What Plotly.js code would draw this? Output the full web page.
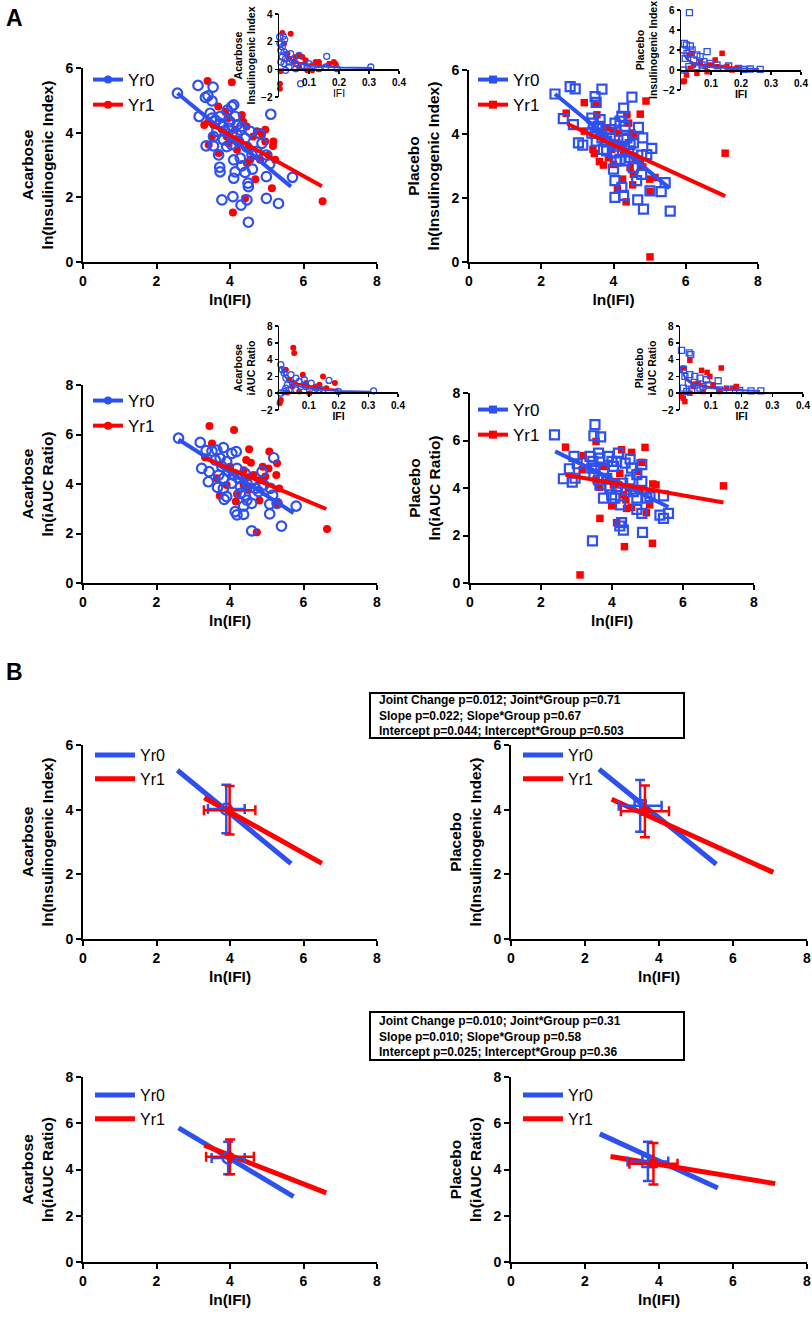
<!DOCTYPE html>
<html><head><meta charset="utf-8">
<script src="https://cdn.plot.ly/plotly-3.0.1.min.js"></script>
<style>body{margin:0;background:#fff}#c{width:812px;height:1338px}</style>
</head><body><div id="c"></div>
<script>
const W=812,H=1338;
const fx=p=>p/W, fy=p=>1-p/H;
const FONT='Liberation Sans, Arial, sans-serif';
const BLUE='#2d50f0', RED='#ff0000';

// ---------- Panel A: ln(IFI) vs ln(Insulinogenic Index), Acarbose ----------
const insAcarYr0=[[2.57,5.22],[3.13,5.46],[3.54,5.41],[3.33,5.09],[3.40,5.14],[3.51,4.98],[3.16,4.50],[3.35,3.59],[3.55,3.59],[3.69,3.31],[3.72,2.93],[3.73,2.79],[3.78,1.92],[4.08,2.02],[4.10,2.59],[4.14,2.79],[4.30,1.76],[4.50,1.23],[4.46,1.92],[4.50,2.33],[4.49,2.44],[4.41,2.77],[4.32,2.97],[4.61,2.87],[4.99,2.64],[4.99,1.97],[5.32,1.81],[5.70,2.62],[5.08,3.03],[4.99,3.31],[5.11,4.57],[4.10,4.86],[4.05,4.81],[3.93,4.70],[3.46,4.60],[3.51,4.45],[3.60,4.39],[3.73,4.29],[3.64,4.04],[3.55,3.88],[3.87,4.04],[3.96,4.14],[4.00,4.34],[4.14,4.50],[4.19,4.24],[4.28,4.08],[4.32,4.19],[4.55,4.04],[4.41,3.83],[4.23,3.73],[4.05,3.63],[3.91,3.57],[3.82,3.78],[4.46,3.55],[4.60,3.31],[4.28,3.21],[4.10,3.16],[4.73,3.42],[4.87,3.67],[4.82,3.96],[3.73,4.50],[3.82,4.19],[4.05,3.94],[4.19,3.94]];
const insAcarYr1=[[3.39,5.60],[4.05,5.56],[3.30,4.24],[3.55,4.24],[3.68,4.81],[3.87,4.65],[3.96,4.45],[4.32,4.55],[4.36,4.34],[4.45,4.19],[4.63,3.88],[4.73,4.04],[4.87,3.94],[4.96,4.09],[4.96,3.73],[5.18,3.73],[5.17,3.59],[5.05,3.31],[5.23,3.16],[4.82,3.16],[4.69,2.56],[5.14,2.28],[4.41,1.97],[4.08,1.53],[6.52,1.88],[3.42,3.63],[3.69,3.37],[3.91,3.88],[4.10,3.78],[4.19,3.47],[4.28,3.68],[4.46,3.06],[4.55,3.16],[3.78,4.09],[4.14,4.09],[3.96,3.67],[4.50,3.52],[3.51,3.88]];
const fitInsAcarYr0X=[2.57,5.66], fitInsAcarYr0Y=[5.22,2.33];
const fitInsAcarYr1X=[3.30,6.50], fitInsAcarYr1Y=[4.37,2.34];

// ---------- Placebo insulinogenic ----------
const insPlacYr0=[[2.38,5.25],[2.80,5.48],[2.94,5.41],[3.68,5.40],[3.49,5.17],[3.52,4.99],[4.51,5.15],[2.61,4.48],[2.89,4.29],[3.03,3.72],[3.15,3.65],[3.40,4.50],[3.44,4.34],[3.54,4.19],[3.63,4.45],[3.49,4.03],[3.52,3.78],[3.68,3.88],[3.81,3.78],[3.91,4.14],[4.04,4.34],[4.18,4.40],[4.28,4.81],[4.23,4.55],[4.32,4.24],[4.69,4.21],[4.81,3.88],[4.55,3.72],[4.28,3.83],[4.09,3.62],[4.00,3.41],[4.09,3.16],[4.18,3.21],[4.32,3.16],[4.00,2.90],[4.04,2.54],[4.23,2.33],[4.28,2.08],[4.04,2.02],[4.67,1.94],[4.83,1.65],[4.55,2.95],[4.78,2.74],[4.64,2.54],[4.78,3.34],[4.92,3.36],[5.06,3.55],[5.01,2.22],[5.32,2.20],[5.43,2.48],[5.57,1.59],[4.46,3.67],[3.81,3.47],[3.72,3.52],[3.91,3.88],[3.58,4.24],[3.40,4.03],[4.37,3.88],[4.42,3.47],[4.46,3.26]];
const insPlacYr1=[[2.69,4.65],[3.19,4.98],[3.19,4.09],[3.52,4.96],[3.54,4.60],[3.43,3.52],[3.47,3.39],[3.61,3.14],[3.72,3.03],[3.86,3.26],[3.81,4.19],[4.00,4.09],[4.14,4.03],[4.37,4.60],[4.42,4.34],[4.51,4.03],[4.55,3.93],[4.74,4.62],[4.90,5.03],[4.28,3.41],[4.46,2.95],[4.55,2.74],[4.25,2.59],[4.11,2.28],[4.35,1.88],[4.53,2.41],[4.81,2.97],[5.00,2.59],[5.01,2.20],[5.15,2.64],[5.01,0.16],[7.09,3.40],[3.95,3.52],[4.09,3.72],[4.23,3.67],[3.72,3.88],[4.60,3.26],[4.74,3.16],[4.00,3.05]];
const fitInsPlacYr0X=[2.38,5.55], fitInsPlacYr0Y=[5.25,2.31];
const fitInsPlacYr1X=[2.72,7.09], fitInsPlacYr1Y=[4.32,2.06];

// ---------- Acarbose iAUC ratio ----------
const aucAcarYr0=[[2.60,5.85],[3.19,5.68],[3.35,5.35],[3.51,5.33],[3.64,5.37],[3.82,5.47],[4.05,5.24],[4.17,5.31],[3.23,4.63],[3.43,4.50],[3.41,4.09],[3.66,3.86],[3.82,3.82],[3.91,3.49],[3.84,3.38],[4.14,2.88],[4.19,2.75],[4.37,2.77],[4.37,3.11],[4.59,3.22],[4.46,3.35],[4.41,3.55],[4.59,2.11],[5.08,2.79],[5.08,3.19],[5.16,3.55],[5.28,3.22],[5.40,2.30],[5.80,3.11],[5.19,5.06],[4.87,4.50],[5.10,3.82],[4.92,3.96],[4.69,3.82],[4.59,4.09],[4.41,4.43],[4.19,4.63],[4.10,4.36],[3.96,4.50],[3.78,4.70],[3.60,4.97],[3.73,5.04],[3.91,4.90],[4.05,4.03],[4.28,3.89],[4.46,4.03],[4.23,4.23],[3.82,4.23],[3.69,4.36],[4.78,3.69],[4.28,3.62]];
const aucAcarYr1=[[3.44,6.34],[4.11,6.18],[3.51,5.64],[4.52,5.40],[5.07,5.31],[3.32,5.08],[4.44,4.97],[4.57,4.86],[5.28,4.84],[4.89,4.70],[5.05,4.63],[5.26,4.36],[4.96,4.30],[4.82,4.16],[4.50,4.27],[4.37,3.96],[5.34,3.82],[4.19,3.60],[3.72,3.53],[4.80,3.33],[4.16,3.29],[5.28,3.22],[4.73,2.05],[6.64,2.18],[4.14,4.43],[4.00,4.70],[4.37,4.56],[4.64,4.36],[3.64,4.23],[3.91,3.96],[4.50,3.76]];
const fitAucAcarYr0X=[2.60,5.73], fitAucAcarYr0Y=[5.80,2.83];
const fitAucAcarYr1X=[3.30,6.62], fitAucAcarYr1Y=[5.05,2.99];

// ---------- Placebo iAUC ratio ----------
const aucPlacYr0=[[2.38,6.24],[3.52,6.67],[3.49,6.20],[3.68,6.15],[2.63,4.39],[2.80,4.81],[2.88,4.25],[2.96,4.41],[2.93,5.33],[3.02,5.02],[3.38,5.33],[3.46,5.12],[3.52,4.84],[3.62,5.47],[3.66,5.26],[3.49,4.56],[3.62,4.34],[3.76,3.57],[3.90,5.33],[4.00,5.12],[4.04,4.91],[4.18,5.47],[4.13,5.12],[4.37,5.05],[4.51,5.22],[4.55,4.84],[4.84,4.98],[4.84,4.28],[4.70,4.56],[4.51,4.34],[4.30,4.20],[4.13,4.06],[3.94,3.99],[3.99,3.71],[4.08,3.57],[4.24,3.29],[4.27,2.54],[4.22,2.40],[4.32,2.23],[3.45,1.77],[4.70,3.57],[4.70,3.10],[4.84,2.93],[4.86,2.13],[4.98,3.57],[5.07,3.64],[5.45,3.67],[5.35,2.86],[5.45,2.72],[5.59,2.93],[3.85,4.41],[3.76,4.77],[4.41,3.92],[4.60,3.85],[3.43,4.84],[3.66,4.13]];
const aucPlacYr1=[[2.69,5.72],[3.19,5.36],[3.55,5.96],[3.16,4.77],[3.55,4.34],[3.64,4.03],[3.66,2.72],[3.10,0.34],[4.27,5.61],[4.55,5.50],[4.93,5.71],[4.84,5.08],[4.74,4.70],[5.15,4.17],[5.24,4.13],[4.79,3.89],[4.46,3.99],[4.13,4.27],[3.99,3.25],[4.13,2.54],[4.39,3.50],[4.41,3.14],[4.55,3.19],[4.97,2.96],[5.06,3.29],[4.35,1.53],[5.14,1.67],[7.14,4.09],[3.90,4.41],[4.22,4.62],[4.32,3.71],[4.04,4.13],[3.76,4.91]];
const fitAucPlacYr0X=[2.40,5.59], fitAucPlacYr0Y=[5.54,3.20];
const fitAucPlacYr1X=[2.69,7.14], fitAucPlacYr1Y=[4.56,3.39];

// ---------- Insets (IFI, untransformed) ----------
const rawInsAcarYr0=[[0.002,2.34],[0.014,2.39],[0.019,2.15],[0.006,1.86],[0.003,1.86],[0.011,1.62],[0.006,1.38],[0.017,1.26],[0.011,0.89],[0.022,0.77],[0.006,0.53],[0.017,0.41],[0.033,0.53],[0.044,0.65],[0.056,0.41],[0.078,0.29],[0.094,0.17],[0.111,0.24],[0.133,0.05],[0.156,0.17],[0.159,0.94],[0.194,0.05],[0.306,0.17],[0.072,-1.04],[0.022,-0.07],[0.033,0.17],[0.067,1.01],[0.039,1.14],[0.100,0.41],[0.056,0.05]];
const rawInsAcarYr1=[[0.011,2.63],[0.039,2.58],[0.017,1.86],[0.028,1.14],[0.067,1.01],[0.078,0.89],[0.050,0.53],[0.089,0.65],[0.133,0.53],[0.167,0.41],[0.183,0.53],[0.111,-0.07],[0.094,-0.07],[0.003,-1.04],[0.003,-1.40],[0.005,-0.14],[0.067,0.17],[0.133,0.29],[0.189,0.36],[0.033,0.77],[0.056,0.89],[0.122,0.53]];
const curveInsAcarYr0X=[0.015,0.03,0.06,0.10,0.20,0.31], curveInsAcarYr0Y=[1.30,0.80,0.45,0.27,0.14,0.10];
const curveInsAcarYr1X=[0.020,0.04,0.06,0.10,0.15,0.19], curveInsAcarYr1Y=[1.00,0.72,0.50,0.33,0.22,0.17];

const rawInsPlacYr0=[[0.028,5.73],[0.011,2.67],[0.018,2.50],[0.007,2.00],[0.031,2.40],[0.037,2.00],[0.020,1.67],[0.014,1.17],[0.053,1.50],[0.087,1.83],[0.064,1.33],[0.042,1.00],[0.076,0.83],[0.098,0.67],[0.120,0.50],[0.159,0.40],[0.192,0.17],[0.209,0.07],[0.231,0.10],[0.264,0.07],[0.026,0.33],[0.009,0.00],[0.053,0.33],[0.142,0.17],[0.070,0.50]];
const rawInsPlacYr1=[[0.011,-1.10],[0.007,-1.17],[0.026,1.50],[0.037,1.67],[0.137,1.67],[0.114,1.00],[0.053,-0.33],[0.087,-0.17],[0.153,0.33],[0.187,0.17],[0.018,-0.50],[0.098,0.50],[0.064,0.83],[0.042,0.50],[0.120,0.33],[0.170,0.00],[0.031,0.17],[0.081,0.33]];
const curveInsPlacYr0X=[0.010,0.03,0.06,0.10,0.17,0.26], curveInsPlacYr0Y=[1.50,0.80,0.45,0.30,0.17,0.10];
const curveInsPlacYr1X=[0.015,0.03,0.05,0.08,0.12,0.18], curveInsPlacYr1Y=[1.20,0.85,0.60,0.45,0.35,0.25];

const rawAucAcarYr0=[[0.006,3.40],[0.011,2.80],[0.017,2.40],[0.023,1.80],[0.040,2.20],[0.057,1.80],[0.085,1.60],[0.028,1.00],[0.045,1.20],[0.074,0.80],[0.108,1.20],[0.125,0.60],[0.168,1.52],[0.148,0.40],[0.200,0.20],[0.318,0.28],[0.023,0.60],[0.017,0.20],[0.057,0.40],[0.102,0.40],[0.136,0.40],[0.034,0.40],[0.091,0.80],[0.006,0.00],[0.068,1.40]];
const rawAucAcarYr1=[[0.048,5.40],[0.051,4.80],[0.023,2.80],[0.034,1.60],[0.080,2.20],[0.148,2.00],[0.188,1.20],[0.136,1.00],[0.003,-1.00],[0.006,-0.80],[0.002,-1.20],[0.102,0.00],[0.068,0.20],[0.045,0.80],[0.091,1.20],[0.125,0.80],[0.028,0.08],[0.159,0.60]];
const curveAucAcarYr0X=[0.006,0.02,0.035,0.06,0.10,0.20,0.31], curveAucAcarYr0Y=[3.20,2.00,1.40,0.90,0.55,0.25,0.18];
const curveAucAcarYr1X=[0.028,0.05,0.08,0.12,0.16,0.20], curveAucAcarYr1Y=[1.80,1.30,0.95,0.70,0.50,0.40];

const rawAucPlacYr0=[[0.005,5.10],[0.030,4.80],[0.035,4.60],[0.011,2.80],[0.016,2.00],[0.032,2.20],[0.048,2.00],[0.065,1.80],[0.086,1.60],[0.091,1.00],[0.124,1.48],[0.027,1.20],[0.054,1.00],[0.011,0.60],[0.022,0.20],[0.065,0.60],[0.129,0.40],[0.161,0.40],[0.194,0.32],[0.231,0.28],[0.263,0.28],[0.038,0.40],[0.075,0.80]];
const rawAucPlacYr1=[[0.032,3.92],[0.011,3.00],[0.134,3.00],[0.070,2.72],[0.088,2.48],[0.097,2.00],[0.011,-0.60],[0.016,-1.00],[0.005,-0.40],[0.043,0.80],[0.059,1.20],[0.108,1.00],[0.151,0.60],[0.172,0.60],[0.183,0.80],[0.075,0.20],[0.032,0.00],[0.129,0.20]];
const curveAucPlacYr0X=[0.005,0.02,0.04,0.08,0.15,0.26], curveAucPlacYr0Y=[2.70,1.60,1.10,0.70,0.40,0.25];
const curveAucPlacYr1X=[0.015,0.03,0.06,0.10,0.15,0.20], curveAucPlacYr1Y=[1.90,1.40,1.00,0.70,0.50,0.40];

// ---------- Panel B: group means with SD (index 0 = Yr0, 1 = Yr1) ----------
const bInsAcarMeanX=[3.90,3.99], bInsAcarMeanY=[4.02,3.98], bInsAcarSdX=[0.50,0.70], bInsAcarSdY=[0.75,0.75];
const bInsPlacMeanX=[3.49,3.62], bInsPlacMeanY=[4.12,3.95], bInsPlacSdX=[0.58,0.65], bInsPlacSdY=[0.80,0.80];
const bAucAcarMeanX=[3.95,4.00], bAucAcarMeanY=[4.50,4.55], bAucAcarSdX=[0.45,0.65], bAucAcarSdY=[0.70,0.75];
const bAucPlacMeanX=[3.70,3.85], bAucPlacMeanY=[4.35,4.25], bAucPlacSdX=[0.55,0.65], bAucPlacSdY=[0.85,0.90];

const seriesNames=['Yr0','Yr1'];
const statsIns=['Joint Change p=0.012; Joint*Group p=0.71','Slope p=0.022; Slope*Group p=0.67','Intercept p=0.044; Intercept*Group p=0.503'];
const statsAuc=['Joint Change p=0.010; Joint*Group p=0.31','Slope p=0.010; Slope*Group p=0.58','Intercept p=0.025; Intercept*Group p=0.36'];

// ---------- build ----------
const xs=a=>a.map(p=>p[0]), ys=a=>a.map(p=>p[1]);
const id=n=>n===1?'':String(n);
const traces=[];
function scat(data,n,sym,color,size,lw){
  traces.push({type:'scatter',mode:'markers',x:xs(data),y:ys(data),xaxis:'x'+id(n),yaxis:'y'+id(n),showlegend:false,hoverinfo:'skip',cliponaxis:false,
    marker:{symbol:sym,size:size,color:color,line:{width:lw,color:color}}});
}
function line(x,y,n,color,w){
  traces.push({type:'scatter',mode:'lines',x:x,y:y,xaxis:'x'+id(n),yaxis:'y'+id(n),showlegend:false,hoverinfo:'skip',line:{color:color,width:w}});
}
function legendItems(n,leg,withMarker,sym){
  [BLUE,RED].forEach((c,i)=>{
    traces.push({type:'scatter',mode:withMarker?'lines+markers':'lines',x:[null],y:[null],xaxis:'x'+id(n),yaxis:'y'+id(n),
      name:seriesNames[i],legend:leg,legendgroup:leg+i,showlegend:true,
      line:{color:c,width:withMarker?4:5},marker:{symbol:sym,size:8,color:c}});
  });
}
function means(mx,my,sx,sy,n,symOpen,symFill){
  [0,1].forEach(i=>{
    const c=i===0?BLUE:RED;
    traces.push({type:'scatter',mode:'markers',x:[mx[i]],y:[my[i]],xaxis:'x'+id(n),yaxis:'y'+id(n),showlegend:false,hoverinfo:'skip',
      marker:{symbol:i===0?symOpen:symFill,size:i===0?11:9,color:c,line:{width:i===0?2.5:0,color:c}},
      error_x:{type:'data',array:[sx[i]],color:c,thickness:2.5,width:5},
      error_y:{type:'data',array:[sy[i]],color:c,thickness:2.5,width:5}});
  });
}

// A panels
scat(insAcarYr1,1,'circle',RED,8,0); scat(insAcarYr0,1,'circle-open',BLUE,9.5,2.2);
line(fitInsAcarYr0X,fitInsAcarYr0Y,1,BLUE,4); line(fitInsAcarYr1X,fitInsAcarYr1Y,1,RED,4);
legendItems(1,'legend',true,'circle');
scat(insPlacYr1,2,'square',RED,7.5,0); scat(insPlacYr0,2,'square-open',BLUE,9,2.2);
line(fitInsPlacYr0X,fitInsPlacYr0Y,2,BLUE,4); line(fitInsPlacYr1X,fitInsPlacYr1Y,2,RED,4);
legendItems(2,'legend2',true,'square');
scat(aucAcarYr1,3,'circle',RED,8,0); scat(aucAcarYr0,3,'circle-open',BLUE,9.5,2.2);
line(fitAucAcarYr0X,fitAucAcarYr0Y,3,BLUE,4); line(fitAucAcarYr1X,fitAucAcarYr1Y,3,RED,4);
legendItems(3,'legend3',true,'circle');
scat(aucPlacYr1,4,'square',RED,7.5,0); scat(aucPlacYr0,4,'square-open',BLUE,9,2.2);
line(fitAucPlacYr0X,fitAucPlacYr0Y,4,BLUE,4); line(fitAucPlacYr1X,fitAucPlacYr1Y,4,RED,4);
legendItems(4,'legend4',true,'square');
// B panels
line(fitInsAcarYr0X,fitInsAcarYr0Y,5,BLUE,5); line(fitInsAcarYr1X,fitInsAcarYr1Y,5,RED,5);
means(bInsAcarMeanX,bInsAcarMeanY,bInsAcarSdX,bInsAcarSdY,5,'circle-open','circle');
legendItems(5,'legend5',false,'circle');
line(fitInsPlacYr0X,fitInsPlacYr0Y,6,BLUE,5); line(fitInsPlacYr1X,fitInsPlacYr1Y,6,RED,5);
means(bInsPlacMeanX,bInsPlacMeanY,bInsPlacSdX,bInsPlacSdY,6,'square-open','square');
legendItems(6,'legend6',false,'square');
line(fitAucAcarYr0X,fitAucAcarYr0Y,7,BLUE,5); line(fitAucAcarYr1X,fitAucAcarYr1Y,7,RED,5);
means(bAucAcarMeanX,bAucAcarMeanY,bAucAcarSdX,bAucAcarSdY,7,'circle-open','circle');
legendItems(7,'legend7',false,'circle');
line(fitAucPlacYr0X,fitAucPlacYr0Y,8,BLUE,5); line(fitAucPlacYr1X,fitAucPlacYr1Y,8,RED,5);
means(bAucPlacMeanX,bAucPlacMeanY,bAucPlacSdX,bAucPlacSdY,8,'square-open','square');
legendItems(8,'legend8',false,'square');
// insets
scat(rawInsAcarYr1,9,'circle',RED,6,0); scat(rawInsAcarYr0,9,'circle-open',BLUE,6,1.3);
line(curveInsAcarYr1X,curveInsAcarYr1Y,9,RED,2); line(curveInsAcarYr0X,curveInsAcarYr0Y,9,BLUE,2);
scat(rawInsPlacYr1,10,'square',RED,5.5,0); scat(rawInsPlacYr0,10,'square-open',BLUE,6,1.3);
line(curveInsPlacYr1X,curveInsPlacYr1Y,10,RED,2); line(curveInsPlacYr0X,curveInsPlacYr0Y,10,BLUE,2);
scat(rawAucAcarYr1,11,'circle',RED,6,0); scat(rawAucAcarYr0,11,'circle-open',BLUE,6,1.3);
line(curveAucAcarYr1X,curveAucAcarYr1Y,11,RED,2); line(curveAucAcarYr0X,curveAucAcarYr0Y,11,BLUE,2);
scat(rawAucPlacYr1,12,'square',RED,5.5,0); scat(rawAucPlacYr0,12,'square-open',BLUE,6,1.3);
line(curveAucPlacYr1X,curveAucPlacYr1Y,12,RED,2); line(curveAucPlacYr0X,curveAucPlacYr0Y,12,BLUE,2);

const layout={width:W,height:H,margin:{l:0,r:0,t:0,b:0},paper_bgcolor:'#fff',plot_bgcolor:'rgba(0,0,0,0)',
  font:{family:FONT,color:'#000'},showlegend:true,annotations:[],shapes:[]};
const axBase={showline:true,linewidth:2,linecolor:'#000',ticks:'outside',ticklen:5,tickwidth:2,tickcolor:'#000',showgrid:false,zeroline:false,fixedrange:true};
function mainAx(n,xpx,ypx,yr,ytv,ytitle){
  layout['xaxis'+id(n)]=Object.assign({},axBase,{domain:[fx(xpx[0]),fx(xpx[1])],range:[0,8],anchor:'y'+id(n),tickvals:[0,2,4,6,8],
    tickfont:{size:14,weight:'bold'},title:{text:'ln(IFI)',font:{size:15.5,weight:'bold'},standoff:6}});
  layout['yaxis'+id(n)]=Object.assign({},axBase,{domain:[fy(ypx[1]),fy(ypx[0])],range:yr,anchor:'x'+id(n),tickvals:ytv,
    tickfont:{size:14,weight:'bold'},title:{text:ytitle,font:{size:15.5,weight:'bold'},standoff:8}});
}
mainAx(1,[83,377],[68,262],[0,6],[0,2,4,6],'Acarbose<br>ln(Insulinogenic Index)');
mainAx(2,[469,758],[70,262],[0,6],[0,2,4,6],'Placebo<br>ln(Insulinogenic Index)');
mainAx(3,[83,377],[385,583],[0,8],[0,2,4,6,8],'Acarbose<br>ln(iAUC Ratio)');
mainAx(4,[470,754],[393,583],[0,8],[0,2,4,6,8],'Placebo<br>ln(iAUC Ratio)');
mainAx(5,[83,377],[745,939],[0,6],[0,2,4,6],'Acarbose<br>ln(Insulinogenic Index)');
mainAx(6,[511,807],[745,939],[0,6],[0,2,4,6],'Placebo<br>ln(Insulinogenic Index)');
mainAx(7,[83,377],[1077,1262],[0,8],[0,2,4,6,8],'Acarbose<br>ln(iAUC Ratio)');
mainAx(8,[511,807],[1077,1262],[0,8],[0,2,4,6,8],'Placebo<br>ln(iAUC Ratio)');

function insetAx(n,xpx,ypx,yr,ytv,ytitle,zeroPx,xBold){
  const small={linewidth:1.5,tickwidth:1.5,ticklen:3};
  layout['xaxis'+n]=Object.assign({},axBase,small,{domain:[fx(xpx[0]),fx(xpx[1])],range:[0,0.4],anchor:'free',position:fy(zeroPx),
    tickvals:[0.1,0.2,0.3,0.4],tickfont:{size:10,weight:'bold'},title:{text:'IFI',font:{size:10.5,weight:xBold?'bold':'normal'},standoff:3}});
  layout['yaxis'+n]=Object.assign({},axBase,small,{domain:[fy(ypx[1]),fy(ypx[0])],range:yr,anchor:'x'+n,tickvals:ytv,
    tickfont:{size:10,weight:'bold'},title:{text:ytitle,font:{size:10.5,weight:'bold'},standoff:3}});
}
insetAx(9,[279,399],[14,97],[-2,4],[-2,0,2,4],'Acarbose<br>Insulinogenic Index',69,false);
insetAx(10,[681,801],[10,90],[-2,6],[-2,0,2,4,6],'Placebo<br>Insulinogenic Index',70,true);
insetAx(11,[279,398],[326,410],[-2,8],[-2,0,2,4,6,8],'Acarbose<br>iAUC Ratio',392,true);
insetAx(12,[680,803],[326,410],[-2,8],[-2,0,2,4,6,8],'Placebo<br>iAUC Ratio',392,true);

function leg(name,xpx,ypx,size,iw){
  layout[name]={x:fx(xpx),y:fy(ypx),xanchor:'left',yanchor:'top',xref:'paper',yref:'paper',bgcolor:'rgba(0,0,0,0)',
    font:{size:size,family:FONT,color:'#000'},itemwidth:iw,tracegroupgap:5,traceorder:'normal'};
}
leg('legend',88,62,17,30); leg('legend2',473,62,17,30); leg('legend3',88,383,17,30); leg('legend4',473,392,17,30);
leg('legend5',90,738,16,40); leg('legend6',518,738,16,40); leg('legend7',90,1078,16,40); leg('legend8',518,1078,16,40);

layout.annotations.push({xref:'paper',yref:'paper',x:fx(4),y:fy(18),xanchor:'left',yanchor:'middle',text:'A',showarrow:false,font:{size:23,weight:'bold'}});
layout.annotations.push({xref:'paper',yref:'paper',x:fx(4),y:fy(672),xanchor:'left',yanchor:'middle',text:'B',showarrow:false,font:{size:23,weight:'bold'}});
function statBox(lines,top,bottom){
  layout.shapes.push({type:'rect',xref:'paper',yref:'paper',x0:fx(370),x1:fx(684),y0:fy(bottom),y1:fy(top),line:{color:'#000',width:2}});
  layout.annotations.push({xref:'paper',yref:'paper',x:fx(377),y:fy((top+bottom)/2),xanchor:'left',yanchor:'middle',align:'left',
    text:lines.join('<br>'),showarrow:false,font:{size:12,weight:'bold'}});
}
statBox(statsIns,693,738); statBox(statsAuc,1012,1060);

Plotly.newPlot('c',traces,layout,{staticPlot:true});
</script></body></html>
